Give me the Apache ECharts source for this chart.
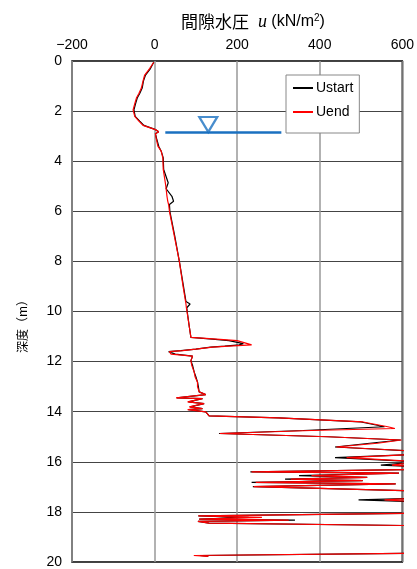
<!DOCTYPE html>
<html>
<head>
<meta charset="utf-8">
<script src="https://cdn.jsdelivr.net/npm/echarts@6/dist/echarts.min.js"></script>
<style>
  html, body { margin: 0; padding: 0; background: #fff; }
  #chart { width: 417px; height: 569px; }
</style>
</head>
<body>
<div id="chart"></div>
<script>
// Depth below ground (m) for each reading
const depth = [
  0.05, 0.30, 0.56, 0.80, 1.08, 1.30, 1.48, 1.70, 1.95, 2.21,
  2.40, 2.57, 2.70, 2.74, 2.82, 2.90, 2.96, 3.10, 3.40, 3.60,
  3.87, 4.33, 4.86, 5.10, 5.40, 5.60, 5.73, 6.00, 7.00, 8.00,
  9.00, 9.60, 9.70, 9.85, 10.00, 10.60, 11.03, 11.10, 11.16, 11.28,
  11.33, 11.38, 11.42, 11.50, 11.56, 11.60, 11.64, 11.70, 11.78, 11.96,
  12.15, 12.42, 12.60, 12.82, 13.00, 13.21, 13.32, 13.45, 13.48, 13.61,
  13.68, 13.81, 13.88, 13.92, 14.01, 14.17, 14.25, 14.41, 14.60, 14.67,
  14.75, 14.87, 15.00, 15.13, 15.26, 15.41, 15.58, 15.70, 15.83, 16.00,
  16.13, 16.20, 16.30, 16.40, 16.45, 16.55, 16.62, 16.69, 16.75, 16.82,
  16.88, 16.99, 17.17, 17.45, 17.52, 17.60, 18.05, 18.16, 18.22, 18.29,
  18.33, 18.38, 18.45, 18.55, 19.65, 19.74, 19.78
];

// Pore water pressure at start of measurement (kN/m2)
const uStart = [
  -2, -10, -22, -27, -30, -36, -42, -46, -50, -47,
  -36, -26, -4, 2, 10, 2, 3, 5, 10, 16,
  21, 22, 33, 28, 42, 46, 36, 37, 49, 60,
  70, 76, 86, 78, 79, 84, 88, 140, 180, 215,
  205, 170, 136, 100, 64, 34, 32, 50, 92, 88,
  92, 96, 100, 104, 106, 108, 124, 54, 116, 82,
  120, 86, 116, 82, 124, 132, 300, 500, 557, 560,
  360, 156, 420, 596, 521, 437, 640, 640, 437, 640,
  548, 640, 640, 232, 592, 350, 515, 316, 504, 235,
  584, 238, 640, 640, 494, 640, 640, 106, 228, 108,
  340, 105, 132, 640, 640, 110, 130
];

// Pore water pressure at end of measurement (kN/m2)
const uEnd = [
  -2, -12, -24, -28, -32, -38, -44, -48, -52, -48,
  -38, -28, -5, 2, 10, 2, 2, 4, 8, 16,
  20, 21, 26, 28, 30, 32, 34, 36, 48, 60,
  69, 75, 76, 77, 78.5, 84, 88, 150, 200, 225,
  235, 180, 140, 100, 68, 36, 32, 40, 92, 88,
  90, 96, 98, 104, 104, 108, 124, 52, 116, 80,
  120, 84, 116, 80, 124, 132, 300, 505, 565, 582,
  380, 158, 420, 598, 540, 440, 640, 640, 465, 640,
  575, 640, 640, 235, 592, 380, 515, 330, 504, 245,
  584, 240, 640, 640, 557, 640, 640, 106, 260, 108,
  325, 105, 132, 640, 640, 95, 130
];

// Ground water table
const waterDepth = 2.85;
const waterLineU = [26, 307];
const waterMarkU = 130;

const xTicks = [-200, 0, 200, 400, 600];

const chart = echarts.init(document.getElementById('chart'), null, { renderer: 'canvas' });

const numFont = '"Liberation Sans", Arial, sans-serif';
const cjkFont = '"Noto Sans CJK JP", sans-serif';

chart.setOption({
  animation: false,
  backgroundColor: '#fff',
  title: {
    left: 176,
    top: 8,
    text: '{a|間隙水圧}{s|  }{u|u}{b| (kN/m}{sup|2}{b|)}',
    textStyle: {
      fontWeight: 'normal',
      rich: {
        a: { fontFamily: cjkFont, fontSize: 17, fontWeight: 'normal', color: '#000' },
        s: { fontSize: 16, fontWeight: 'normal' },
        u: { fontFamily: '"Liberation Serif", serif', fontStyle: 'italic', fontWeight: 'normal', fontSize: 18, color: '#000' },
        b: { fontFamily: numFont, fontSize: 16, fontWeight: 'normal', color: '#000' },
        sup: { fontFamily: numFont, fontSize: 10, fontWeight: 'normal', color: '#000', verticalAlign: 'top', padding: [0, 0, 8, 0] }
      }
    }
  },
  legend: {
    data: ['Ustart', 'Uend'],
    orient: 'vertical',
    left: 286,
    top: 75,
    backgroundColor: '#fff',
    borderColor: '#888',
    borderWidth: 1,
    padding: [6, 6, 14, 7],
    itemGap: 10,
    itemWidth: 20,
    itemHeight: 2,
    icon: 'rect',
    textStyle: { fontFamily: numFont, fontSize: 14, color: '#000', padding: [0, 0, 0, -2] }
  },
  grid: {
    left: 72,
    right: 12,
    top: 61,
    bottom: 5,
    show: true,
    borderColor: '#000',
    borderWidth: 1.5,
    backgroundColor: 'transparent'
  },
  xAxis: {
    type: 'value',
    position: 'top',
    min: xTicks[0],
    max: xTicks[xTicks.length - 1],
    interval: 200,
    axisLine: { show: false },
    axisTick: { show: false },
    axisLabel: {
      margin: 9,
      fontFamily: numFont,
      fontSize: 14,
      color: '#000',
      formatter: v => String(v).replace('-', '\u2212')
    },
    splitLine: { show: true, lineStyle: { color: '#999', width: 1.5 } }
  },
  yAxis: {
    type: 'value',
    inverse: true,
    min: 0,
    max: 20,
    interval: 2,
    name: '深度（m）',
    nameLocation: 'middle',
    nameRotate: 90,
    nameGap: 44,
    nameTextStyle: { fontFamily: cjkFont, fontSize: 12, color: '#000', padding: [0, 24, 0, 0] },
    axisLine: { show: false },
    axisTick: { show: false },
    axisLabel: { margin: 10, fontFamily: numFont, fontSize: 14, color: '#000' },
    splitLine: { show: true, lineStyle: { color: '#444', width: 1 } }
  },
  series: [
    {
      name: 'Ustart',
      type: 'line',
      symbol: 'none',
      clip: true,
      z: 3,
      color: '#000',
      lineStyle: { color: '#000', width: 1.2 },
      data: depth.map((d, i) => [uStart[i], d])
    },
    {
      name: 'Uend',
      type: 'line',
      symbol: 'none',
      clip: true,
      z: 4,
      color: '#ff0000',
      lineStyle: { color: '#ff0000', width: 1.2 },
      data: depth.map((d, i) => [uEnd[i], d])
    },
    {
      name: 'water',
      type: 'line',
      symbol: 'none',
      z: 5,
      lineStyle: { color: '#1a70c0', width: 2.5 },
      data: waterLineU.map(u => [u, waterDepth])
    },
    {
      name: 'waterMark',
      type: 'scatter',
      symbol: 'triangle',
      symbolRotate: 180,
      symbolSize: [18, 15],
      symbolOffset: [0, -8],
      z: 6,
      itemStyle: { color: '#fff', borderColor: '#1a70c0', borderWidth: 2.2 },
      data: [[waterMarkU, waterDepth]]
    }
  ]
});
</script>
</body>
</html>
